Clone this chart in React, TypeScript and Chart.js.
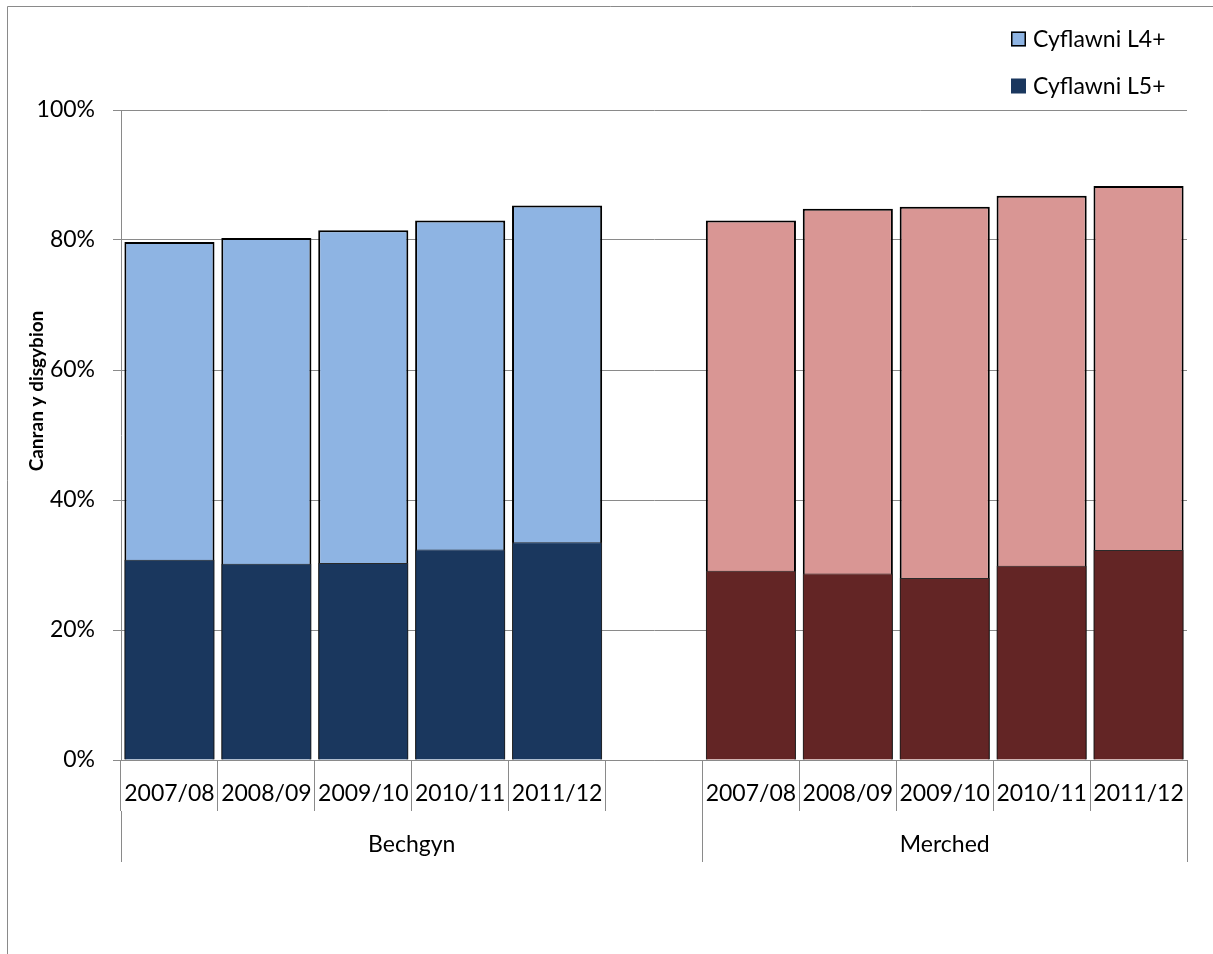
import React, { useEffect, useRef } from 'react';
import { Chart, registerables } from 'chart.js';

Chart.register(...registerables);

// ---- data ----
const years = ['2007/08', '2008/09', '2009/10', '2010/11', '2011/12'];
const groups = ['Bechgyn', 'Merched'];
const seriesNames = ['Cyflawni L4+', 'Cyflawni L5+'];
const bechgynL4 = [79.7, 80.3, 81.5, 83.0, 85.3];
const bechgynL5 = [30.8, 30.2, 30.3, 32.4, 33.5];
const merchedL4 = [83.0, 84.8, 85.1, 86.8, 88.3];
const merchedL5 = [29.1, 28.7, 28.0, 29.9, 32.3];
const yTickValues = [0, 20, 40, 60, 80, 100];
const yAxisTitle = 'Canran y disgybion';

// ---- styles ----
const FONT = 'Lato, "Open Sans", sans-serif';
const GRID = '#8a8a8a';
const bechgynColors = ['#8EB4E3', '#1A375E'];
const merchedColors = ['#D99694', '#632525'];

const categories = [...years, '', ...years];
const groupSpans = [years.length + 1, years.length];
const groupBounds: number[] = [-0.5];
groupSpans.forEach((s) => groupBounds.push(groupBounds[groupBounds.length - 1] + s));
const groupCenters = groupSpans.map((_, i) => (groupBounds[i] + groupBounds[i + 1]) / 2);
const groupTicks = [...groupBounds, ...groupCenters].sort((a, b) => a - b);

const colorsFor = (k: number) => [
  ...years.map(() => bechgynColors[k]),
  'rgba(0,0,0,0)',
  ...years.map(() => merchedColors[k]),
];

const decorPlugin = {
  id: 'decor',
  afterDraw(chart: any) {
    const { ctx, chartArea } = chart;
    ctx.save();
    // outer frame (top + left)
    ctx.strokeStyle = GRID;
    ctx.lineWidth = 1;
    ctx.beginPath();
    ctx.moveTo(7.5, chart.height);
    ctx.lineTo(7.5, 6.5);
    ctx.lineTo(chart.width, 6.5);
    ctx.stroke();

    // y axis title
    ctx.save();
    ctx.translate(37, chartArea.top + 281);
    ctx.rotate(-Math.PI / 2);
    ctx.font = `bold 19px ${FONT}`;
    ctx.fillStyle = '#000';
    ctx.textAlign = 'center';
    ctx.textBaseline = 'middle';
    ctx.fillText(yAxisTitle, 0, 0);
    ctx.restore();

    // legend
    const boxX = chartArea.right - 176;
    const rowsY = [chartArea.top - 71, chartArea.top - 24];
    seriesNames.forEach((name, i) => {
      const cy = rowsY[i];
      ctx.fillStyle = bechgynColors[i];
      ctx.fillRect(boxX, cy - 7.5, 15, 15);
      if (i === 0) {
        ctx.strokeStyle = '#000';
        ctx.lineWidth = 1.5;
        ctx.strokeRect(boxX + 0.75, cy - 6.75, 13.5, 13.5);
      }
      ctx.font = `23px ${FONT}`;
      ctx.fillStyle = '#000';
      ctx.textAlign = 'left';
      ctx.textBaseline = 'middle';
      ctx.fillText(name, boxX + 22, cy + 1);
    });
    ctx.restore();
  },
};

export default function App() {
  const ref = useRef<HTMLCanvasElement>(null);

  useEffect(() => {
    if (!ref.current) return;
    const tickFont = { family: FONT, size: 23 };
    const chart = new Chart(ref.current, {
      type: 'bar',
      data: {
        labels: categories,
        datasets: [
          {
            label: seriesNames[0],
            data: [...bechgynL4, null, ...merchedL4],
            backgroundColor: colorsFor(0),
            borderColor: '#000',
            borderWidth: 2,
            order: 1,
          },
          {
            label: seriesNames[1],
            data: [...bechgynL5, null, ...merchedL5],
            backgroundColor: colorsFor(1),
            borderColor: '#2a2a2a',
            borderWidth: 1,
            order: 0,
          },
        ],
      },
      options: {
        responsive: false,
        animation: false,
        layout: { padding: { left: 0, right: 26, top: 110, bottom: 92 } },
        plugins: { legend: { display: false }, tooltip: { enabled: false } },
        datasets: { bar: { grouped: false, categoryPercentage: 1, barPercentage: 0.93 } },
        scales: {
          y: {
            min: 0,
            max: 100,
            afterBuildTicks: (s: any) => {
              s.ticks = yTickValues.map((v) => ({ value: v }));
            },
            ticks: {
              callback: (v: any) => `${v}%`,
              font: tickFont,
              color: '#000',
              padding: 18,
            },
            grid: { color: GRID, tickLength: 8 },
            border: { color: GRID },
            afterFit: (s: any) => {
              s.width = 121;
            },
          },
          x: {
            type: 'category',
            position: 'bottom',
            weight: 0,
            offset: true,
            grid: { offset: true, drawOnChartArea: false, tickLength: 51, color: GRID },
            border: { color: GRID },
            ticks: { autoSkip: false, maxRotation: 0, font: tickFont, color: '#000', padding: -31 },
            afterFit: (s: any) => {
              s.height = 51;
            },
          },
          x2: {
            type: 'linear',
            position: 'bottom',
            weight: 1,
            offset: false,
            bounds: 'data',
            min: groupBounds[0],
            max: groupBounds[groupBounds.length - 1],
            afterBuildTicks: (s: any) => {
              s.ticks = groupTicks.map((v) => ({ value: v }));
            },
            ticks: {
              autoSkip: false,
              maxRotation: 0,
              font: tickFont,
              color: '#000',
              padding: -31,
              callback: (v: any) => {
                const gi = groupCenters.indexOf(Number(v));
                return gi >= 0 ? groups[gi] : '';
              },
            },
            grid: {
              offset: false,
              drawOnChartArea: false,
              tickLength: 51,
              color: (c: any) =>
                c.tick && groupBounds.includes(c.tick.value) ? GRID : 'rgba(0,0,0,0)',
            },
            border: { display: false },
            afterFit: (s: any) => {
              s.height = 51;
            },
          },
        },
      } as any,
      plugins: [decorPlugin],
    });
    return () => chart.destroy();
  }, []);

  return (
    <div style={{ position: 'absolute', left: 0, top: 0, width: 1213, height: 954 }}>
      <canvas ref={ref} width={1213} height={954} style={{ display: 'block', width: 1213, height: 954 }} />
    </div>
  );
}
